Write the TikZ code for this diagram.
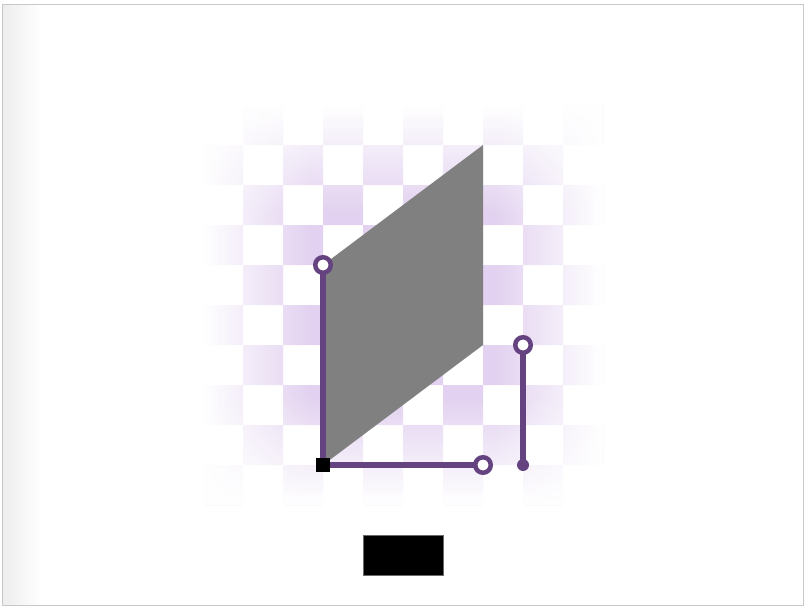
\documentclass[tikz,border=0pt]{standalone}
\definecolor{plum}{RGB}{101,67,128}
\definecolor{checker}{RGB}{226,209,240}
\definecolor{edgegray}{RGB}{200,200,200}
\definecolor{shapegray}{RGB}{128,128,128}
\definecolor{boxedge}{RGB}{105,105,105}
\tikzset{
  link/.style={draw=plum, line width=6.5pt},
  opencirc/.style={circle, draw=plum, fill=white, line width=4.5pt, inner sep=0pt, minimum size=15.5pt},
  enddot/.style={circle, fill=plum, inner sep=0pt, minimum size=12pt},
  corner/.style={fill=black, inner sep=0pt, minimum size=14pt},
  blackbox/.style={fill=black, draw=boxedge, line width=1pt, inner sep=0pt, minimum width=80pt, minimum height=40pt},
  veil/.style={fill=white, opacity=#1}
}
\begin{document}
\begin{tikzpicture}[x=1pt, y=-1pt]
\useasboundingbox (0,0) rectangle (808,610);
% frame and left shadow
\shade[left color=black!7, right color=white] (3,5) rectangle (42,605);
\draw[edgegray, line width=1.2pt] (2.5,4.5) rectangle (803.5,605.5);
% checkerboard
\fill[checker]
  \foreach \r/\s in {0/1,1/0,2/1,3/0,4/1,5/0,6/1,7/0,8/1,9/0}{
    \foreach \c in {0,2,4,6,8}{
      ({203+40*(\c+\s)},{105+40*\r}) rectangle ++(40,40)
    }
  };
% edge fades: thin white strips, opaque at the board edge, clear 110px in
\foreach \i in {0,...,54}{
  \pgfmathsetmacro\op{1-(\i+0.5)/55}
  \fill[veil=\op] (203,{105+2*\i}) rectangle (603,{107+2*\i});
  \fill[veil=\op] (203,{503-2*\i}) rectangle (603,{505-2*\i});
  \fill[veil=\op] ({203+2*\i},105) rectangle ({205+2*\i},505);
  \fill[veil=\op] ({601-2*\i},105) rectangle ({603-2*\i},505);
}
% parallelogram
\coordinate (q1) at (323,265);
\coordinate (q2) at (483,145);
\coordinate (q3) at (483,345);
\coordinate (q4) at (323,465);
\fill[shapegray] (q1) -- (q2) -- (q3) -- (q4) -- cycle;
% nodes
\coordinate (top) at (323,265);
\coordinate (pivot) at (323,465);
\coordinate (right) at (483,465);
\coordinate (rtop) at (523,345);
\coordinate (rbot) at (523,465);
\draw[link] (top) -- (pivot) -- (right);
\draw[link] (rtop) -- (rbot);
\node[corner] (sq) at (pivot) {};
\node[opencirc] (c1) at (top) {};
\node[opencirc] (c2) at (right) {};
\node[opencirc] (c3) at (rtop) {};
\node[enddot] (d1) at (rbot) {};
\node[blackbox] (blk) at (403,555) {};
\end{tikzpicture}
\end{document}
